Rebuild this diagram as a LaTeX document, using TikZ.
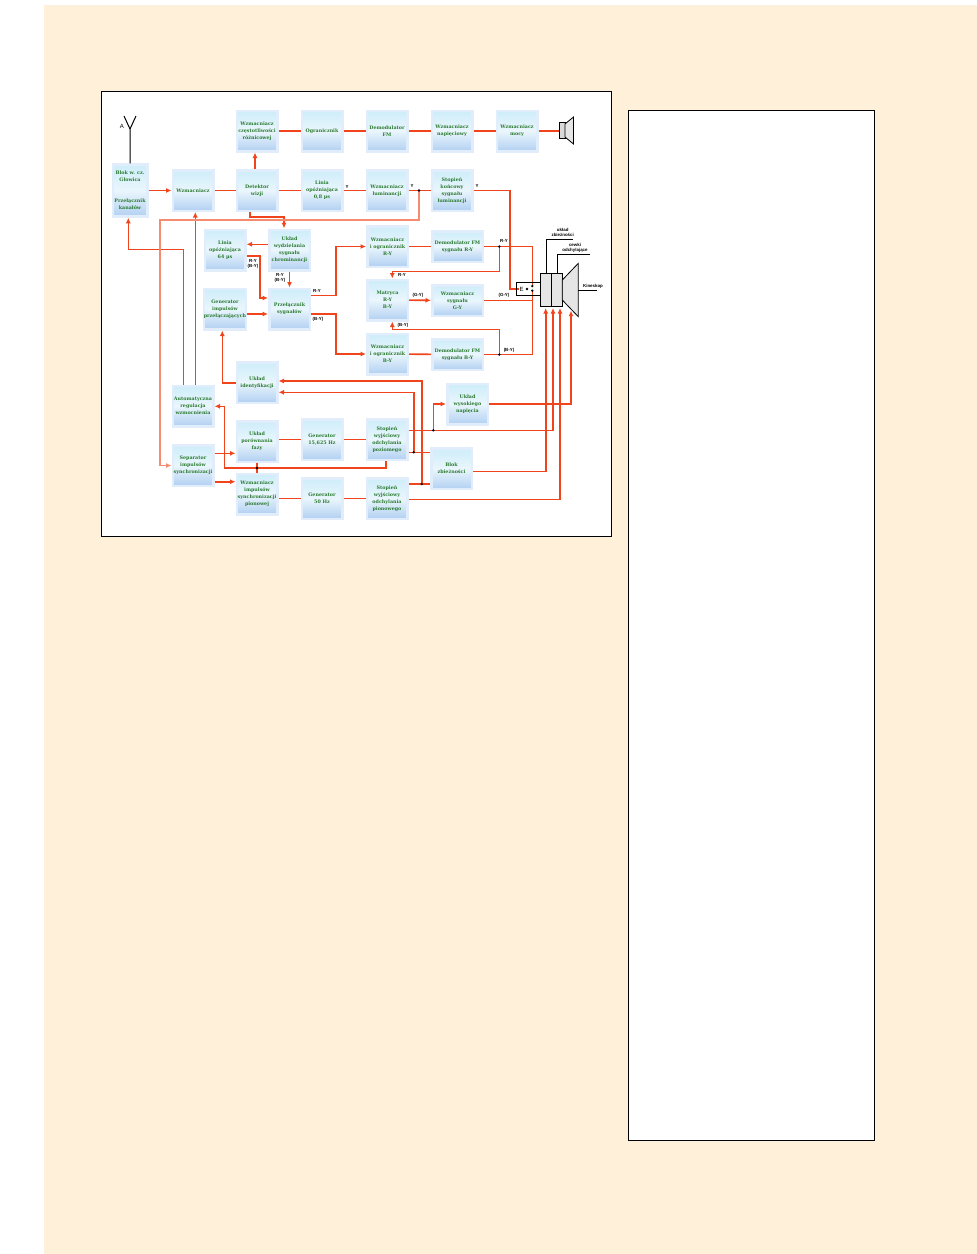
\documentclass[tikz,border=0pt]{standalone}
\usepackage{fontspec}
\setmainfont{DejaVu Serif}
\setsansfont{Liberation Sans}
\usetikzlibrary{calc,arrows.meta}
\definecolor{pagebg}{HTML}{FFF0D9}
\definecolor{sygnal}{HTML}{F0441C}
\definecolor{zasilanie}{HTML}{F58C70}
\definecolor{napis}{HTML}{2A7A30}
\definecolor{ramka}{HTML}{E2EDFB}
\definecolor{gora}{HTML}{CDEDFA}
\definecolor{srodek}{HTML}{EAF6FC}
\definecolor{dol}{HTML}{B2D0F2}
\tikzset{
  blok/.style={draw=ramka, line width=2.5pt, top color=gora, bottom color=dol, middle color=srodek,
    minimum width=40.5pt, minimum height=40.5pt, inner sep=0pt, align=center, text=napis,
    font=\fontsize{4.8}{7}\selectfont\bfseries},
  szeroki/.style={blok, minimum width=50.5pt, minimum height=30.5pt},
  sygn/.style={draw=sygnal, line width=1.6pt},
  zas/.style={draw=zasilanie, line width=1.8pt},
  czarny/.style={draw=black, line width=0.8pt},
  opis/.style={inner sep=0pt, align=center, font=\fontsize{4.4}{5}\selectfont\sffamily\bfseries},
}
\begin{document}
\begin{tikzpicture}[x=1pt, y=-1pt, >={Latex[length=5.5pt,width=5pt]}]
  \useasboundingbox (0,0) rectangle (977,1254);
  % Tlo strony i ramki
  \fill[pagebg] (44,5) rectangle (977,1254);
  \draw[fill=white, line width=0.7pt] (101.5,91.5) rectangle (611,536.5);
  \draw[fill=white, line width=0.7pt] (628.5,110.5) rectangle (874.5,1140);

  % Tor fonii
  \node[blok] (czest) at (257,131) {Wzmacniacz\\częstotliwości\\różnicowej};
  \node[blok] (ogr) at (322,131) {Ogranicznik};
  \node[blok] (demfm) at (387,131) {Demodulator\\FM};
  \node[blok] (wznap) at (452,131) {Wzmacniacz\\napięciowy};
  \node[blok] (wzmoc) at (517,131) {Wzmacniacz\\mocy};

  % Tor wizji
  \node[blok, minimum width=34.5pt, minimum height=52pt] (glowica) at (130,190.5) {Blok w. cz.\\Głowica\\[14pt]Przełącznik\\kanałów};
  \node[blok] (wzm) at (193,190.5) {Wzmacniacz};
  \node[blok] (det) at (257,190.5) {Detektor\\wizji};
  \node[blok] (lin08) at (322,190.5) {Linia\\opóźniająca\\0,8 µs};
  \node[blok] (wzlum) at (387,190.5) {Wzmacniacz\\luminancji};
  \node[blok] (stkon) at (452,190.5) {Stopień\\końcowy\\sygnału\\luminancji};

  % Tor chrominancji
  \node[blok] (lin64) at (225,250) {Linia\\opóźniająca\\64 µs};
  \node[blok] (wydz) at (289.5,250) {Układ\\wydzielania\\sygnału\\chrominancji};
  \node[blok] (genprz) at (225,309) {Generator\\impulsów\\przełączających};
  \node[blok] (prz) at (289.5,309) {Przełącznik\\sygnałów};
  \node[blok] (ogrry) at (387.5,246.5) {Wzmacniacz\\i ogranicznik\\R-Y};
  \node[blok] (mat) at (387.5,300) {Matryca\\R-Y\\B-Y};
  \node[blok] (ogrby) at (387.5,354) {Wzmacniacz\\i ogranicznik\\B-Y};
  \node[szeroki] (demry) at (457.5,246.5) {Demodulator FM\\sygnału R-Y};
  \node[szeroki] (wzgy) at (457.5,300.5) {Wzmacniacz\\sygnału\\G-Y};
  \node[szeroki] (demby) at (457.5,354.5) {Demodulator FM\\sygnału B-Y};

  % Synchronizacja i odchylanie
  \node[blok] (ident) at (257,382.5) {Układ\\identyfikacji};
  \node[blok] (arw) at (193,406) {Automatyczna\\regulacja\\wzmocnienia};
  \node[blok] (porown) at (257,441.5) {Układ\\porównania\\fazy};
  \node[blok] (sep) at (193,465.5) {Separator\\impulsów\\synchronizacji};
  \node[blok] (wzimp) at (257,494) {Wzmacniacz\\impulsów\\synchronizacji\\pionowej};
  \node[blok] (gen15) at (322,439.5) {Generator\\15,625 Hz};
  \node[blok] (gen50) at (322,498.5) {Generator\\50 Hz};
  \node[blok] (stpoz) at (387,439.5) {Stopień\\wyjściowy\\odchylania\\poziomego};
  \node[blok] (stpion) at (387,498.5) {Stopień\\wyjściowy\\odchylania\\pionowego};
  \node[blok] (wysok) at (467.5,404) {Układ\\wysokiego\\napięcia};
  \node[blok] (zbiez) at (451.5,468.7) {Blok\\zbieżności};

  % Wezly
  \coordinate (wY) at (419,190.5);
  \coordinate (wRY) at (499.3,246.5);
  \coordinate (wBY) at (499.3,354.5);
  \coordinate (wDet) at (250,217);
  \coordinate (wPorown) at (257,468);
  \coordinate (wPoz) at (433.3,430.3);
  \coordinate (wZb1) at (413.7,452.3);
  \coordinate (wZb2) at (421.7,484);
  \coordinate (wE) at (532.3,286);
  \coordinate (wE2) at (532.3,290.7);
  \coordinate (wE3) at (527,289);

  % Antena i glosnik
  \draw[czarny, line width=1pt] (glowica.north) -- (130,129) coordinate (ant) -- (124,116) (ant) -- (136,116);
  \node[opis, font=\fontsize{6}{6}\selectfont\sffamily] (antA) at (122,126) {A};
  \draw[czarny, fill=black!15] (559,122.5) rectangle (565,138);
  \draw[czarny, fill=black!10] (565,124) -- (573.5,117) -- (573.5,144) -- (565,137) -- cycle;

  % Polaczenia bez strzalek
  \draw[sygn] (wzm) -- (det);
  \draw[sygn] (det) -- (lin08);
  \draw[sygn] (lin08) -- (wzlum);
  \draw[sygn] (wzlum) -- (stkon);
  \draw[sygn] (czest) -- (ogr);
  \draw[sygn] (ogr) -- (demfm);
  \draw[sygn] (demfm) -- (wznap);
  \draw[sygn] (wznap) -- (wzmoc);
  \draw[sygn] (wzmoc) -- (559,131);
  \draw[sygn] (porown.east |- gen15) -- (gen15);
  \draw[sygn] (gen15) -- (stpoz);
  \draw[sygn] (wzimp.east |- gen50) -- (gen50);
  \draw[sygn] (gen50) -- (stpion);
  \draw[sygn] (ogrry) -- (demry);
  \draw[sygn] (ogrby) -- (demby);
  \draw[sygn] (porown) -- (wzimp);
  \draw[sygn] (stpoz.east |- wZb1) -- (zbiez.west |- wZb1);
  \draw[sygn] (stpion.east |- wZb2) -- (zbiez.west |- wZb2);

  % Polaczenia ze strzalkami
  \draw[sygn, ->] (glowica) -- (wzm);
  \draw[sygn, ->] (det.north -| 255,0) -- (czest.south -| 255,0);
  \draw[sygn, ->] (wDet |- det.south) -- (wDet) -| (284,228.3);
  \draw[sygn, ->] (wydz.west |- 0,244.3) -- (lin64.east |- 0,244.3);
  \draw[sygn, ->] (lin64.east |- 0,255.7) -| (259.7,298) -- (prz.west |- 0,298);
  \draw[sygn, ->] (wydz) -- (prz);
  \draw[sygn, ->] (prz.east |- 0,295.3) -| (335.7,246.5) -- (ogrry);
  \draw[sygn, ->] (prz.east |- 0,314) -| (335.7,354) -- (ogrby);
  \draw[sygn, ->] (genprz.east |- 0,314) -- (prz.west |- 0,314);
  \draw[sygn, ->] (ident.west |- 0,383) -| (genprz.south -| 222.3,0);
  \draw[sygn, ->] (wZb2) -- (421.7,381) -- (ident.east |- 0,381);
  \draw[sygn, ->] (wZb1) -- (413.7,392.3) -- (ident.east |- 0,392.3);
  \draw[sygn, ->] (arw.north -| 195.3,0) -- (wzm.south -| 195.3,0);
  \draw[sygn, ->] (arw.north -| 183.3,0) -- (183.3,249.3) -| (glowica.south -| 128.3,0);
  \draw[sygn, ->] (sep.east |- 0,453.3) -- (porown.west |- 0,453.3);
  \draw[sygn, ->] (sep.east |- 0,481.7) -- (wzimp.west |- 0,481.7);
  \draw[sygn, ->] (stpoz.south -| 386,0) |- (224.3,468) |- (arw.east |- 0,406.3);
  \draw[sygn, ->] (mat) -- (wzgy);
  \draw[sygn] (wzgy.east |- 0,300.3) -| (wE2);
  \draw[sygn] (demry) -| (wE);
  \draw[sygn] (demby) -| (wE2);
  \draw[sygn, ->] (wRY) -- (499.3,271.3) -| (mat.north -| 392.3,0);
  \draw[sygn, ->] (wBY) -- (499.3,329.3) -| (mat.south -| 392.3,0);
  \draw[sygn] (stkon) -| (510,289) -- (519,289);
  \draw[zas, ->] (wY) |- (160,220) |- (sep);

  \draw[sygn, ->] (stpoz.east |- wPoz) -| (553,308);
  \draw[sygn, ->] (wPoz) |- (wysok);
  \draw[sygn, ->] (zbiez.east |- 0,471.3) -| (545.7,308);
  \draw[sygn, ->] (stpion.east |- 0,499.3) -| (560,308);
  \draw[sygn, ->] (wysok) -| (571,310.7);

  % Kineskop
  \draw[czarny] (540.3,282) -- (516.7,282) -- (516.7,295.3) -- (540.3,295.3);
  \node[opis, font=\fontsize{6}{6}\selectfont\sffamily] (znakE) at (521.5,289) {E};
  \draw[czarny, fill=black!10] (540.3,273.3) rectangle (551.3,306.7);
  \draw[czarny, fill=black!10] (551.3,273.3) rectangle (562.3,306.7);
  \draw[czarny, fill=black!10] (562.3,280) -- (578.3,263.3) -- (578.3,316.7) -- (562.3,300) -- cycle;
  \draw[czarny] (546.7,273.3) |- (573,239.3);
  \draw[czarny] (557.7,273.3) |- (590,254.3);
  \draw[czarny] (578.3,290) -- (597.3,290);
  \node[opis] (lzbiez) at (562.7,232.5) {układ\\zbieżności};
  \node[opis] (lcewki) at (575,248) {cewki\\odchylające};
  \node[opis] (lkin) at (593,286) {Kineskop};

  % Kropki na wezlach
  \foreach \p in {wY,wRY,wBY,wPorown,wPoz,wZb1,wZb2,wE,wE2,wE3}
    \fill (\p) circle (1.3pt);

  % Opisy sygnalow
  \node[opis] (y1) at (347,187) {Y};
  \node[opis] (y2) at (412,186) {Y};
  \node[opis] (y3) at (477,186) {Y};
  \node[opis] (ry1) at (504,241) {R-Y};
  \node[opis] (ry2) at (402,275) {R-Y};
  \node[opis] (ry3) at (317,291) {R-Y};
  \node[opis] (ry4) at (253,264) {R-Y\\(B-Y)};
  \node[opis] (ry5) at (280,277.5) {R-Y\\(B-Y)};
  \node[opis] (by1) at (318,319) {(B-Y)};
  \node[opis] (by2) at (403,325) {(B-Y)};
  \node[opis] (by3) at (509,350) {(B-Y)};
  \node[opis] (gy1) at (418,295) {(G-Y)};
  \node[opis] (gy2) at (504,295) {(G-Y)};
\end{tikzpicture}
\end{document}
